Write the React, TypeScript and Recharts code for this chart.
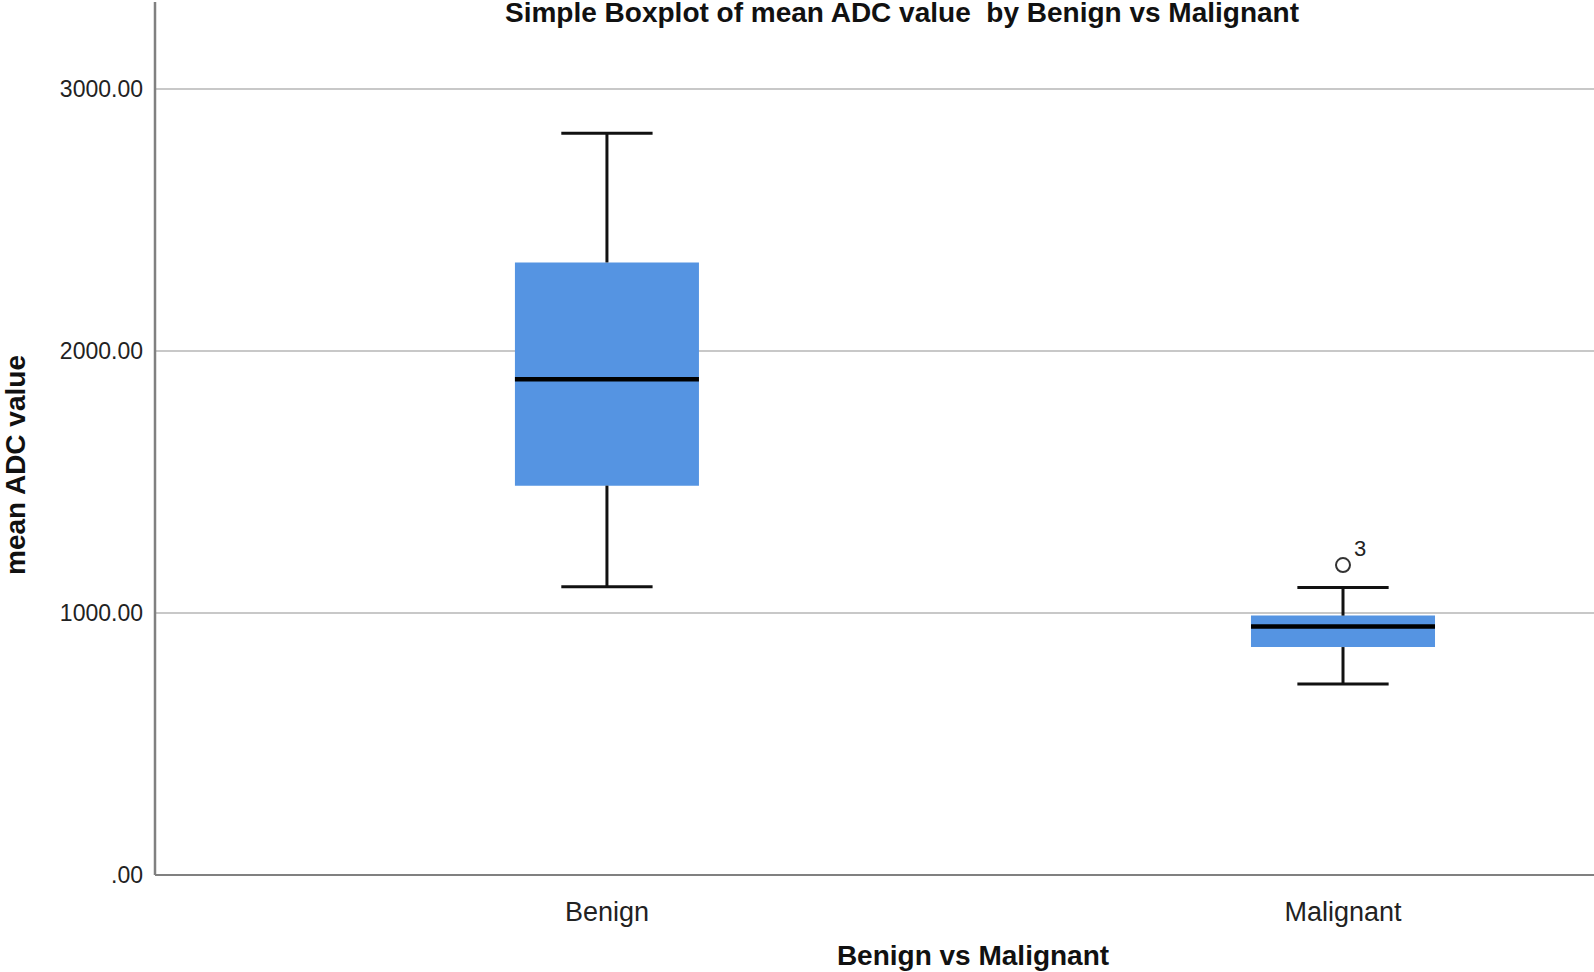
import {
  ComposedChart,
  XAxis,
  YAxis,
  CartesianGrid,
  ReferenceArea,
  ReferenceLine,
  Scatter,
  Label,
} from "recharts";

const categories = ["Benign", "Malignant"];
const positions = [1, 2];
const whiskerLow = [1100, 729];
const quartile1 = [1486, 870];
const medians = [1892, 948];
const quartile3 = [2338, 990];
const whiskerHigh = [2831, 1097];
const outliers = [{ x: 2, y: 1183, label: "3" }];
const yTicks = [0, 1000, 2000, 3000];

const FONT = "'Liberation Sans', Arial, sans-serif";
const BOX_HALF = 0.125;
const CAP_HALF = 0.062;
const BOX_FILL = "#5594e2";

const OutlierMark = (props: any) => {
  const { cx, cy, payload } = props;
  return (
    <g>
      <circle cx={cx} cy={cy} r={7} fill="#fff" stroke="#333" strokeWidth={2} />
      <text x={cx + 11} y={cy - 9} fontSize={22} fill="#222" fontFamily={FONT}>
        {payload.label}
      </text>
    </g>
  );
};

export default function App() {
  return (
    <div style={{ position: "absolute", left: 0, top: 0, width: 1594, height: 972, background: "#fff" }}>
      <div
        style={{
          position: "absolute",
          left: 902,
          top: -1,
          transform: "translateX(-50%)",
          whiteSpace: "pre",
          fontFamily: FONT,
          fontWeight: "bold",
          fontSize: 28,
          lineHeight: "28px",
          color: "#111",
          zIndex: 2,
        }}
      >
        Simple Boxplot of mean ADC value  by Benign vs Malignant
      </div>
      <ComposedChart width={1594} height={972} margin={{ top: 2, right: 0, left: 0, bottom: 0 }}>
        <CartesianGrid vertical={false} horizontalValues={yTicks} stroke="#c8c8c8" strokeWidth={2} />
        <XAxis
          type="number"
          dataKey="x"
          domain={[0.386, 2.341]}
          ticks={positions}
          tickFormatter={(v) => categories[positions.indexOf(v)] ?? ""}
          height={97}
          axisLine={{ stroke: "#808080", strokeWidth: 2 }}
          tickLine={false}
          tickSize={6}
          tickMargin={21}
          tick={{ fontSize: 27, fill: "#222", fontFamily: FONT }}
        >
          <Label
            content={() => (
              <text x={973} y={965} textAnchor="middle" fontSize={28} fontWeight="bold" fill="#111" fontFamily={FONT}>
                Benign vs Malignant
              </text>
            )}
          />
        </XAxis>
        <YAxis
          type="number"
          dataKey="y"
          domain={[0, 3332]}
          ticks={yTicks}
          tickFormatter={(v) => (v === 0 ? ".00" : Number(v).toFixed(2))}
          width={155}
          axisLine={{ stroke: "#808080", strokeWidth: 2.5 }}
          tickLine={false}
          tickSize={6}
          tickMargin={6}
          tick={{ fontSize: 23, fill: "#222", fontFamily: FONT }}
        >
          <Label
            content={() => (
              <text
                x={25}
                y={465}
                transform="rotate(-90, 25, 465)"
                textAnchor="middle"
                fontSize={28}
                fontWeight="bold"
                fill="#111"
                fontFamily={FONT}
              >
                mean ADC value
              </text>
            )}
          />
        </YAxis>

        {positions.map((x, i) => (
          <ReferenceArea
            key={`box-${i}`}
            x1={x - BOX_HALF}
            x2={x + BOX_HALF}
            y1={quartile1[i]}
            y2={quartile3[i]}
            fill={BOX_FILL}
            fillOpacity={1}
            stroke="none"
          />
        ))}
        {positions.map((x, i) => (
          <ReferenceLine
            key={`wu-${i}`}
            segment={[{ x, y: quartile3[i] }, { x, y: whiskerHigh[i] }]}
            stroke="#111"
            strokeWidth={3}
          />
        ))}
        {positions.map((x, i) => (
          <ReferenceLine
            key={`wl-${i}`}
            segment={[{ x, y: quartile1[i] }, { x, y: whiskerLow[i] }]}
            stroke="#111"
            strokeWidth={3}
          />
        ))}
        {positions.map((x, i) => (
          <ReferenceLine
            key={`cu-${i}`}
            segment={[{ x: x - CAP_HALF, y: whiskerHigh[i] }, { x: x + CAP_HALF, y: whiskerHigh[i] }]}
            stroke="#111"
            strokeWidth={3}
          />
        ))}
        {positions.map((x, i) => (
          <ReferenceLine
            key={`cl-${i}`}
            segment={[{ x: x - CAP_HALF, y: whiskerLow[i] }, { x: x + CAP_HALF, y: whiskerLow[i] }]}
            stroke="#111"
            strokeWidth={3}
          />
        ))}
        {positions.map((x, i) => (
          <ReferenceLine
            key={`med-${i}`}
            segment={[{ x: x - BOX_HALF, y: medians[i] }, { x: x + BOX_HALF, y: medians[i] }]}
            stroke="#000"
            strokeWidth={4.5}
          />
        ))}
        <Scatter data={outliers} dataKey="y" shape={OutlierMark} isAnimationActive={false} />
      </ComposedChart>
    </div>
  );
}
